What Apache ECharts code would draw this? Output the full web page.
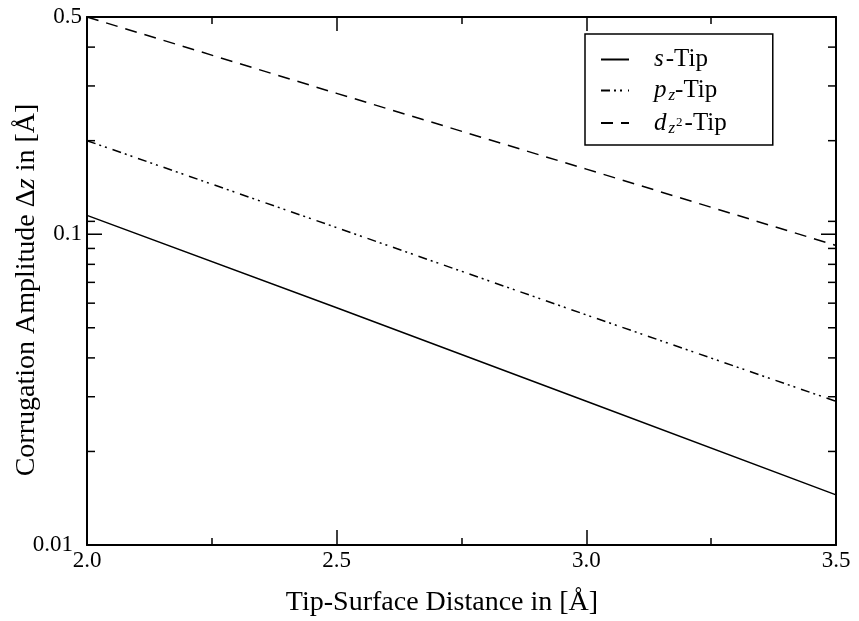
<!DOCTYPE html>
<html>
<head>
<meta charset="utf-8">
<script src="https://cdn.jsdelivr.net/npm/echarts@6/dist/echarts.min.js"></script>
<style>
  html, body { margin: 0; padding: 0; background: #fff; }
  #chart { width: 859px; height: 621px; }
</style>
</head>
<body>
<div id="chart"></div>
<script>
// Tip-surface distance in Å
const distance = [2.0, 2.5, 3.0, 3.5];
// Corrugation amplitude Δz in Å for each tip orbital
const sTip = [0.115, 0.058, 0.029, 0.0145];
const pzTip = [0.2, 0.105, 0.055, 0.029];
const dz2Tip = [0.5, 0.284, 0.162, 0.092];

const seriesNames = ['s-Tip', 'pz-Tip', 'dz2-Tip'];
const xRange = [2.0, 3.5];
const yRange = [0.01, 0.5];
const yMajorTicks = [0.01, 0.1];
const yMinorTicks = [0.02, 0.03, 0.04, 0.05, 0.06, 0.07, 0.08, 0.09, 0.11, 0.2, 0.3, 0.4];

const SERIF = 'Liberation Serif';
const INK = '#000';

const chart = echarts.init(document.getElementById('chart'), null, { renderer: 'canvas' });

function pairs(ys) {
  return distance.map((x, i) => [x, ys[i]]);
}

// Ticks on the log axis are drawn on both the left and right frame edges
function tickSeries(values, len) {
  return {
    type: 'custom',
    silent: true,
    xAxisIndex: 0,
    yAxisIndex: 0,
    encode: { x: 0, y: 1 },
    data: values.map(v => [xRange[0], v, len]),
    renderItem: function (params, api) {
      const v = api.value(1);
      const l = api.value(2);
      const a = api.coord([xRange[0], v]);
      const b = api.coord([xRange[1], v]);
      return {
        type: 'group',
        children: [
          { type: 'line', shape: { x1: a[0], y1: a[1], x2: a[0] + l, y2: a[1] }, style: { stroke: INK, lineWidth: 1.5 } },
          { type: 'line', shape: { x1: b[0] - l, y1: b[1], x2: b[0], y2: b[1] }, style: { stroke: INK, lineWidth: 1.5 } }
        ]
      };
    },
    z: 5
  };
}

const axisLineStyle = { color: INK, width: 2 };

const richText = {
  r: { fontFamily: SERIF, fontSize: 25, color: INK, lineHeight: 28 },
  i: { fontFamily: SERIF, fontSize: 25, fontStyle: 'italic', color: INK, lineHeight: 28, padding: [0, 2, 0, 0] },
  sub: { fontFamily: SERIF, fontSize: 17, fontStyle: 'italic', color: INK, verticalAlign: 'bottom', lineHeight: 17 },
  sup: { fontFamily: SERIF, fontSize: 13, color: INK, verticalAlign: 'middle', lineHeight: 13, padding: [0, 2, 0, 1] }
};

const legendLabels = {
  's-Tip': '{i|s}{r|-Tip}',
  'pz-Tip': '{i|p}{sub|z}{r|-Tip}',
  'dz2-Tip': '{i|d}{sub|z}{sup|2}{r|-Tip}'
};

const option = {
  animation: false,
  backgroundColor: '#fff',
  grid: { left: 87, right: 23, top: 17, bottom: 76, containLabel: false },
  legend: {
    data: seriesNames,
    orient: 'vertical',
    left: 585,
    top: 34,
    padding: [13, 46, 8, 15],
    itemGap: 6,
    itemWidth: 28,
    itemHeight: 14,
    itemStyle: { opacity: 0, borderWidth: 0 },
    borderColor: INK,
    borderWidth: 1.5,
    borderRadius: 0,
    backgroundColor: '#fff',
    selectedMode: false,
    formatter: name => legendLabels[name],
    textStyle: { fontFamily: SERIF, fontSize: 25, color: INK, padding: [0, 0, 0, 20], rich: richText }
  },
  xAxis: [
    {
      type: 'value',
      position: 'bottom',
      min: xRange[0],
      max: xRange[1],
      interval: 0.5,
      axisLine: { show: true, lineStyle: axisLineStyle },
      axisTick: { show: true, inside: true, length: 15, lineStyle: { color: INK, width: 1.5 } },
      minorTick: { show: true, splitNumber: 2, length: 7, lineStyle: { color: INK, width: 1.5 } },
      splitLine: { show: false },
      axisLabel: {
        color: INK, fontFamily: SERIF, fontSize: 23, margin: 4,
        formatter: v => v.toFixed(1)
      }
    },
    {
      type: 'value',
      position: 'top',
      min: xRange[0],
      max: xRange[1],
      interval: 0.5,
      axisLine: { show: true, lineStyle: axisLineStyle },
      axisTick: { show: true, inside: true, length: 14, lineStyle: { color: INK, width: 1.5 } },
      minorTick: { show: true, splitNumber: 2, length: 7, lineStyle: { color: INK, width: 1.5 } },
      splitLine: { show: false },
      axisLabel: { show: false }
    }
  ],
  yAxis: [
    {
      type: 'log',
      logBase: 10,
      position: 'left',
      min: yRange[0],
      max: yRange[1],
      axisLine: { show: true, onZero: false, lineStyle: axisLineStyle },
      axisTick: { show: false },
      minorTick: { show: false },
      splitLine: { show: false },
      axisLabel: {
        color: INK, fontFamily: SERIF, fontSize: 23, margin: 5,
        showMinLabel: true, showMaxLabel: true,
        formatter: v => {
          const s = String(+Number(v).toPrecision(2));
          // the bottom label sits further out so it clears the first x label
          return v <= yRange[0] * 1.0001 ? '{low|' + s + '}' : s;
        },
        rich: {
          low: { fontFamily: SERIF, fontSize: 23, color: INK, padding: [0, 9, 0, 0] }
        }
      }
    },
    {
      type: 'log',
      logBase: 10,
      position: 'right',
      min: yRange[0],
      max: yRange[1],
      axisLine: { show: true, onZero: false, lineStyle: axisLineStyle },
      axisTick: { show: false },
      splitLine: { show: false },
      axisLabel: { show: false }
    }
  ],
  series: [
    {
      name: 's-Tip', type: 'line', data: pairs(sTip), symbol: 'none',
      lineStyle: { color: INK, width: 1.5, type: 'solid' },
      itemStyle: { color: INK }
    },
    {
      name: 'pz-Tip', type: 'line', data: pairs(pzTip), symbol: 'none',
      lineStyle: { color: INK, width: 1.5, type: [9, 4, 2, 4, 2, 6] },
      itemStyle: { color: INK }
    },
    {
      name: 'dz2-Tip', type: 'line', data: pairs(dz2Tip), symbol: 'none',
      lineStyle: { color: INK, width: 1.5, type: [12, 8] },
      itemStyle: { color: INK }
    },
    tickSeries(yMajorTicks, 15),
    tickSeries(yMinorTicks, 8)
  ],
  graphic: [
    {
      type: 'text',
      x: 442, y: 603,
      style: {
        text: 'Tip-Surface Distance in [Å]',
        align: 'center', verticalAlign: 'middle',
        font: '28px Liberation Serif',
        fill: INK
      }
    },
    {
      type: 'text',
      x: 27, y: 290,
      rotation: Math.PI / 2,
      style: {
        text: '{r|Corrugation Amplitude Δ}{i|z}{r| in [Å]}',
        align: 'center', verticalAlign: 'middle',
        rich: {
          r: { fontFamily: SERIF, fontSize: 28, fill: INK },
          i: { fontFamily: SERIF, fontSize: 28, fontStyle: 'italic', fill: INK }
        }
      }
    }
  ]
};

chart.setOption(option);
</script>
</body>
</html>
